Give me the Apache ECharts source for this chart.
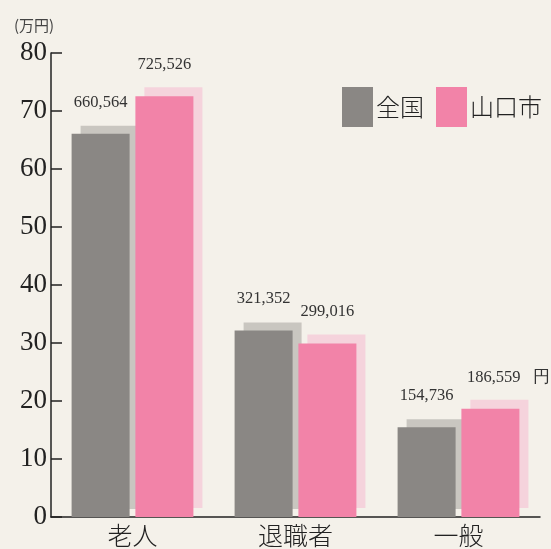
<!DOCTYPE html>
<html><head><meta charset="utf-8">
<script src="https://cdn.jsdelivr.net/npm/echarts@6/dist/echarts.min.js"></script>
<style>html,body{margin:0;padding:0;background:#f4f1ea;}#c{width:551px;height:549px;}</style>
</head><body><div id="c"></div>
<script>
const categories = ['老人', '退職者', '一般'];
const seriesNames = ['全国', '山口市'];
// values in 円
const zenkoku = [660564, 321352, 154736];
const yamaguchi = [725526, 299016, 186559];
const yTicks = [0, 10, 20, 30, 40, 50, 60, 70, 80];

const toMan = v => v / 10000;
const fmt = v => v.toLocaleString('en-US');

const chart = echarts.init(document.getElementById('c'));
const labelBase = {
  show: true, position: 'top', distance: 23,
  fontFamily: 'Liberation Serif', fontSize: 16.5, color: '#333'
};
chart.setOption({
  backgroundColor: '#f4f1ea',
  animation: false,
  title: { text: '(万円)', left: 9, top: 13,
    textStyle: { fontFamily: 'Noto Sans CJK JP', fontSize: 15, fontWeight: 'normal', color: '#444' } },
  legend: {
    data: seriesNames, left: 337, top: 82, itemWidth: 31, itemHeight: 40, itemGap: 12,
    icon: 'rect',
    textStyle: { fontFamily: 'Noto Sans CJK JP', fontSize: 24, fontWeight: 300, color: '#222', padding: [0, 0, 0, -2] }
  },
  grid: { left: 51, right: 11, top: 53, bottom: 32 },
  xAxis: {
    type: 'category', data: categories,
    axisLine: { lineStyle: { color: '#222', width: 1.5 } },
    axisTick: { inside: true, length: 9, lineStyle: { color: '#222', width: 1.5 } },
    axisLabel: { fontFamily: 'Noto Sans CJK JP', fontSize: 25, fontWeight: 300, color: '#222', margin: 6 }
  },
  yAxis: {
    type: 'value', min: 0, max: 80, interval: 10,
    axisLine: { show: true, lineStyle: { color: '#222', width: 1.5 } },
    axisTick: { show: true, inside: true, length: 11, lineStyle: { color: '#222', width: 1.5 } },
    splitLine: { show: false },
    axisLabel: { fontFamily: 'Liberation Serif', fontSize: 27, color: '#222', margin: 4,
      formatter: v => yTicks.includes(v) ? String(v) : '' }
  },
  series: [
    {
      name: seriesNames[0], type: 'bar', barWidth: 58, barGap: '10%',
      data: zenkoku.map(v => ({ value: toMan(v) })),
      itemStyle: { color: '#8a8784', shadowColor: '#c9c6c0', shadowOffsetX: 9, shadowOffsetY: -8, shadowBlur: 0 },
      label: Object.assign({}, labelBase, { formatter: p => fmt(zenkoku[p.dataIndex]) })
    },
    {
      name: seriesNames[1], type: 'bar', barWidth: 58, barGap: '10%',
      data: yamaguchi.map((v, i) => i === yamaguchi.length - 1
        ? { value: toMan(v), label: { offset: [18, 0] } }
        : { value: toMan(v) }),
      itemStyle: { color: '#f283a8', shadowColor: '#f5d3dc', shadowOffsetX: 9, shadowOffsetY: -9, shadowBlur: 0 },
      label: Object.assign({}, labelBase, {
        formatter: p => fmt(yamaguchi[p.dataIndex]) + (p.dataIndex === yamaguchi.length - 1 ? '   円' : '')
      })
    }
  ]
});
</script>
</body></html>
